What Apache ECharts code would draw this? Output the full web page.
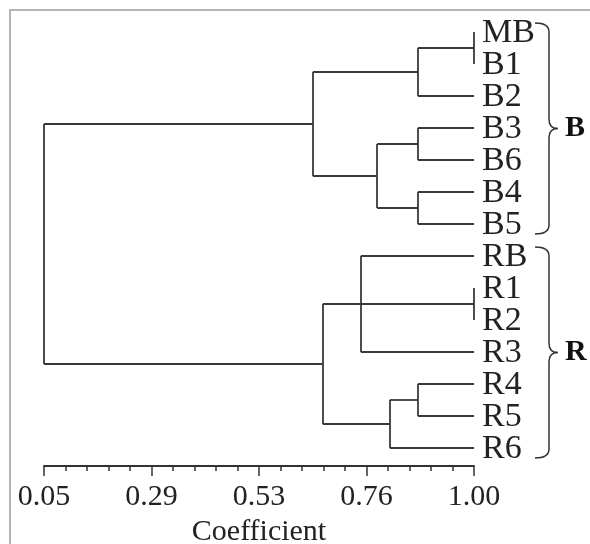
<!DOCTYPE html>
<html>
<head>
    <meta charset="UTF-8">
    <title>Dendrogram</title>
    <script src="https://cdn.jsdelivr.net/npm/echarts@6.0.0/dist/echarts.min.js"></script>
    <style>
        html, body { margin: 0; padding: 0; background: #fff; }
        #chart { width: 590px; height: 544px; }
    </style>
</head>
<body>
    <div id="chart"></div>
    <script>
        // leaves, top to bottom
        const leaves = ['MB', 'B1', 'B2', 'B3', 'B6', 'B4', 'B5', 'RB', 'R1', 'R2', 'R3', 'R4', 'R5', 'R6'];
        // merges: children (leaf index or 14 + merge index) and coefficient
        const mergeChildren = [[0, 1], [14, 2], [3, 4], [5, 6], [16, 17], [15, 18],
                               [8, 9], [7, 20, 10], [11, 12], [22, 13], [21, 23], [19, 24]];
        const mergeHeights = [1.00, 0.876, 0.876, 0.876, 0.786, 0.644,
                              1.00, 0.75, 0.876, 0.814, 0.666, 0.05];
        // groups shown with braces
        const groupNames = ['B', 'R'];
        const groupStart = [0, 7];
        const groupEnd = [6, 13];
        // axis ticks
        const tickLabels = ['0.05', '0.29', '0.53', '0.76', '1.00'];

        const serif = 'Liberation Serif';
        const lineColor = '#3a3a3a';

        // node positions: x = coefficient, y = leaf position
        const nodeX = leaves.map(() => 1.00);
        const nodeY = leaves.map((_, i) => i);
        const segments = [];
        mergeChildren.forEach((kids, m) => {
            const h = mergeHeights[m];
            const ys = kids.map(k => nodeY[k]);
            const y0 = Math.min(...ys), y1 = Math.max(...ys);
            kids.forEach(k => {
                if (nodeX[k] !== h) segments.push({ coords: [[nodeX[k], nodeY[k]], [h, nodeY[k]]] });
            });
            segments.push({ coords: [[h, y0], [h, y1]] });
            nodeX.push(h);
            nodeY.push((y0 + y1) / 2);
        });

        const chart = echarts.init(document.getElementById('chart'));

        const option = {
            animation: false,
            grid: { left: 44, right: 116, top: 32, bottom: 96, outerBoundsMode: 'none', containLabel: false },
            graphic: [{
                type: 'polyline',
                shape: { points: [[10, 544], [10, 10], [590, 10]] },
                style: { stroke: '#b4b4b4', lineWidth: 2, fill: null }
            }],
            xAxis: [{
                type: 'value',
                min: 0.05,
                max: 1.00,
                position: 'top',
                show: false
            }, {
                type: 'value',
                min: 0,
                max: 20,
                interval: 5,
                position: 'bottom',
                offset: 18,
                axisLine: { show: true, lineStyle: { color: '#333', width: 2 } },
                axisTick: { show: true, length: 10, lineStyle: { color: '#333', width: 1.5 } },
                minorTick: { show: true, splitNumber: 5, length: 5, lineStyle: { color: '#333', width: 1.5 } },
                splitLine: { show: false },
                axisLabel: {
                    margin: 16,
                    fontFamily: serif,
                    fontSize: 30,
                    color: '#222',
                    showMinLabel: true,
                    showMaxLabel: true,
                    formatter: v => tickLabels[Math.round(v / 5)]
                },
                name: 'Coefficient',
                nameLocation: 'middle',
                nameGap: 49,
                nameTextStyle: { fontFamily: serif, fontSize: 30, color: '#222' }
            }],
            yAxis: {
                type: 'value',
                min: 0,
                max: leaves.length - 1,
                inverse: true,
                show: false
            },
            series: [{
                type: 'lines',
                coordinateSystem: 'cartesian2d',
                xAxisIndex: 0,
                yAxisIndex: 0,
                lineStyle: { color: lineColor, width: 1.8, opacity: 1 },
                data: segments
            }, {
                // leaf names
                type: 'custom',
                coordinateSystem: 'cartesian2d',
                xAxisIndex: 0,
                yAxisIndex: 0,
                clip: false,
                data: leaves.map((n, i) => [1.00, i]),
                renderItem: function (params, api) {
                    const p = api.coord([api.value(0), api.value(1)]);
                    return {
                        type: 'text',
                        style: {
                            text: leaves[params.dataIndex],
                            x: p[0] + 8,
                            y: p[1] + 1,
                            fontFamily: serif,
                            fontSize: 34,
                            fill: '#222',
                            align: 'left',
                            verticalAlign: 'middle'
                        }
                    };
                }
            }, {
                // group braces
                type: 'custom',
                coordinateSystem: 'cartesian2d',
                xAxisIndex: 0,
                yAxisIndex: 0,
                clip: false,
                data: groupNames.map((n, i) => [groupStart[i], groupEnd[i]]),
                renderItem: function (params, api) {
                    const p0 = api.coord([1.00, api.value(0)]);
                    const p1 = api.coord([1.00, api.value(1)]);
                    const xl = p0[0] + 61, xm = p0[0] + 75, xt = p0[0] + 84;
                    const yt = p0[1] - 9, yb = p1[1] + 10, ym = (yt + yb) / 2;
                    const d = 'M' + xl + ',' + yt +
                        ' Q' + xm + ',' + yt + ' ' + xm + ',' + (yt + 9) +
                        ' L' + xm + ',' + (ym - 9) +
                        ' Q' + xm + ',' + ym + ' ' + xt + ',' + ym +
                        ' Q' + xm + ',' + ym + ' ' + xm + ',' + (ym + 9) +
                        ' L' + xm + ',' + (yb - 9) +
                        ' Q' + xm + ',' + yb + ' ' + xl + ',' + yb;
                    return {
                        type: 'group',
                        children: [{
                            type: 'path',
                            shape: { pathData: d },
                            style: { stroke: '#333', lineWidth: 1.5, fill: null }
                        }, {
                            type: 'text',
                            style: {
                                text: groupNames[params.dataIndex],
                                x: xt + 7,
                                y: ym,
                                fontFamily: serif,
                                fontSize: 30,
                                fontWeight: 'bold',
                                fill: '#111',
                                align: 'left',
                                verticalAlign: 'middle'
                            }
                        }]
                    };
                }
            }]
        };

        chart.setOption(option);
    </script>
</body>
</html>
